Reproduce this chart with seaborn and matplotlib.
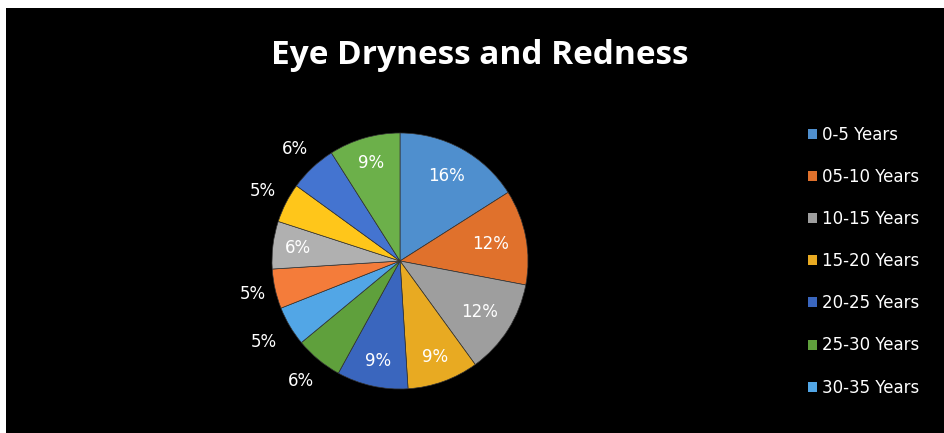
import matplotlib
matplotlib.use("Agg")
import matplotlib.pyplot as plt
import seaborn as sns
from matplotlib.patches import Rectangle, Patch
import numpy as np

categories = ["0-5 Years", "05-10 Years", "10-15 Years", "15-20 Years",
              "20-25 Years", "25-30 Years", "30-35 Years", "35-40 Years",
              "40-45 Years", "45-50 Years", "50-55 Years", "55-60 Years"]
percent = [16, 12, 12, 9, 9, 6, 5, 5, 6, 5, 6, 9]
legend_count = 7

colors = ["#4F8FCE", "#E0712C", "#9E9E9E", "#E8AA22", "#3A66BE", "#5FA03C",
          "#52A6E6", "#F47C3A", "#B0B0B0", "#FFC61A", "#4474D0", "#6CB04A"]
label_dist = [0.76, 0.72, 0.74, 0.8, 0.8, 1.22, 1.24, 1.18, 0.8, 1.2, 1.2, 0.8]

sns.set_style("dark")
plt.rcParams["font.family"] = ["DejaVu Sans"]

fig = plt.figure(figsize=(9.45, 4.33), dpi=100, facecolor="white")
fig.patches.append(Rectangle((6 / 945, 0), 1, 1 - 8 / 433, transform=fig.transFigure,
                             facecolor="black", edgecolor="none", zorder=-10))

W, H = 945, 433
cx, cy, R = 400, 261, 128
half = 1.3 * R
ax = fig.add_axes([(cx - half) / W, (H - cy - half) / H, 2 * half / W, 2 * half / H])
ax.set_facecolor("none")

wedges, _ = ax.pie(percent, colors=colors, startangle=90, counterclock=False,
                   wedgeprops=dict(edgecolor="#333333", linewidth=0.5))
ax.set_xlim(-1.3, 1.3)
ax.set_ylim(-1.3, 1.3)
ax.set_aspect("equal")
ax.axis("off")

for w, p, d in zip(wedges, percent, label_dist):
    ang = np.deg2rad((w.theta1 + w.theta2) / 2)
    ax.text(d * np.cos(ang), d * np.sin(ang), f"{p}%", ha="center", va="center",
            color="white", fontsize=12)

fig.text(480 / W, 1 - 56 / H, "Eye Dryness and Redness", ha="center", va="center",
         color="white", fontsize=24, fontweight="bold", family=["Open Sans", "DejaVu Sans"])

handles = [Patch(facecolor=colors[i], edgecolor="none", label=categories[i])
           for i in range(legend_count)]
leg = fig.legend(handles=handles, loc="upper left", bbox_to_anchor=(801 / W, 1 - 119 / H),
                 frameon=False, fontsize=12, labelcolor="white",
                 handlelength=0.55, handleheight=0.55, handletextpad=0.3,
                 labelspacing=1.45, borderaxespad=0)

fig.savefig("out.png", dpi=100, facecolor=fig.get_facecolor())
